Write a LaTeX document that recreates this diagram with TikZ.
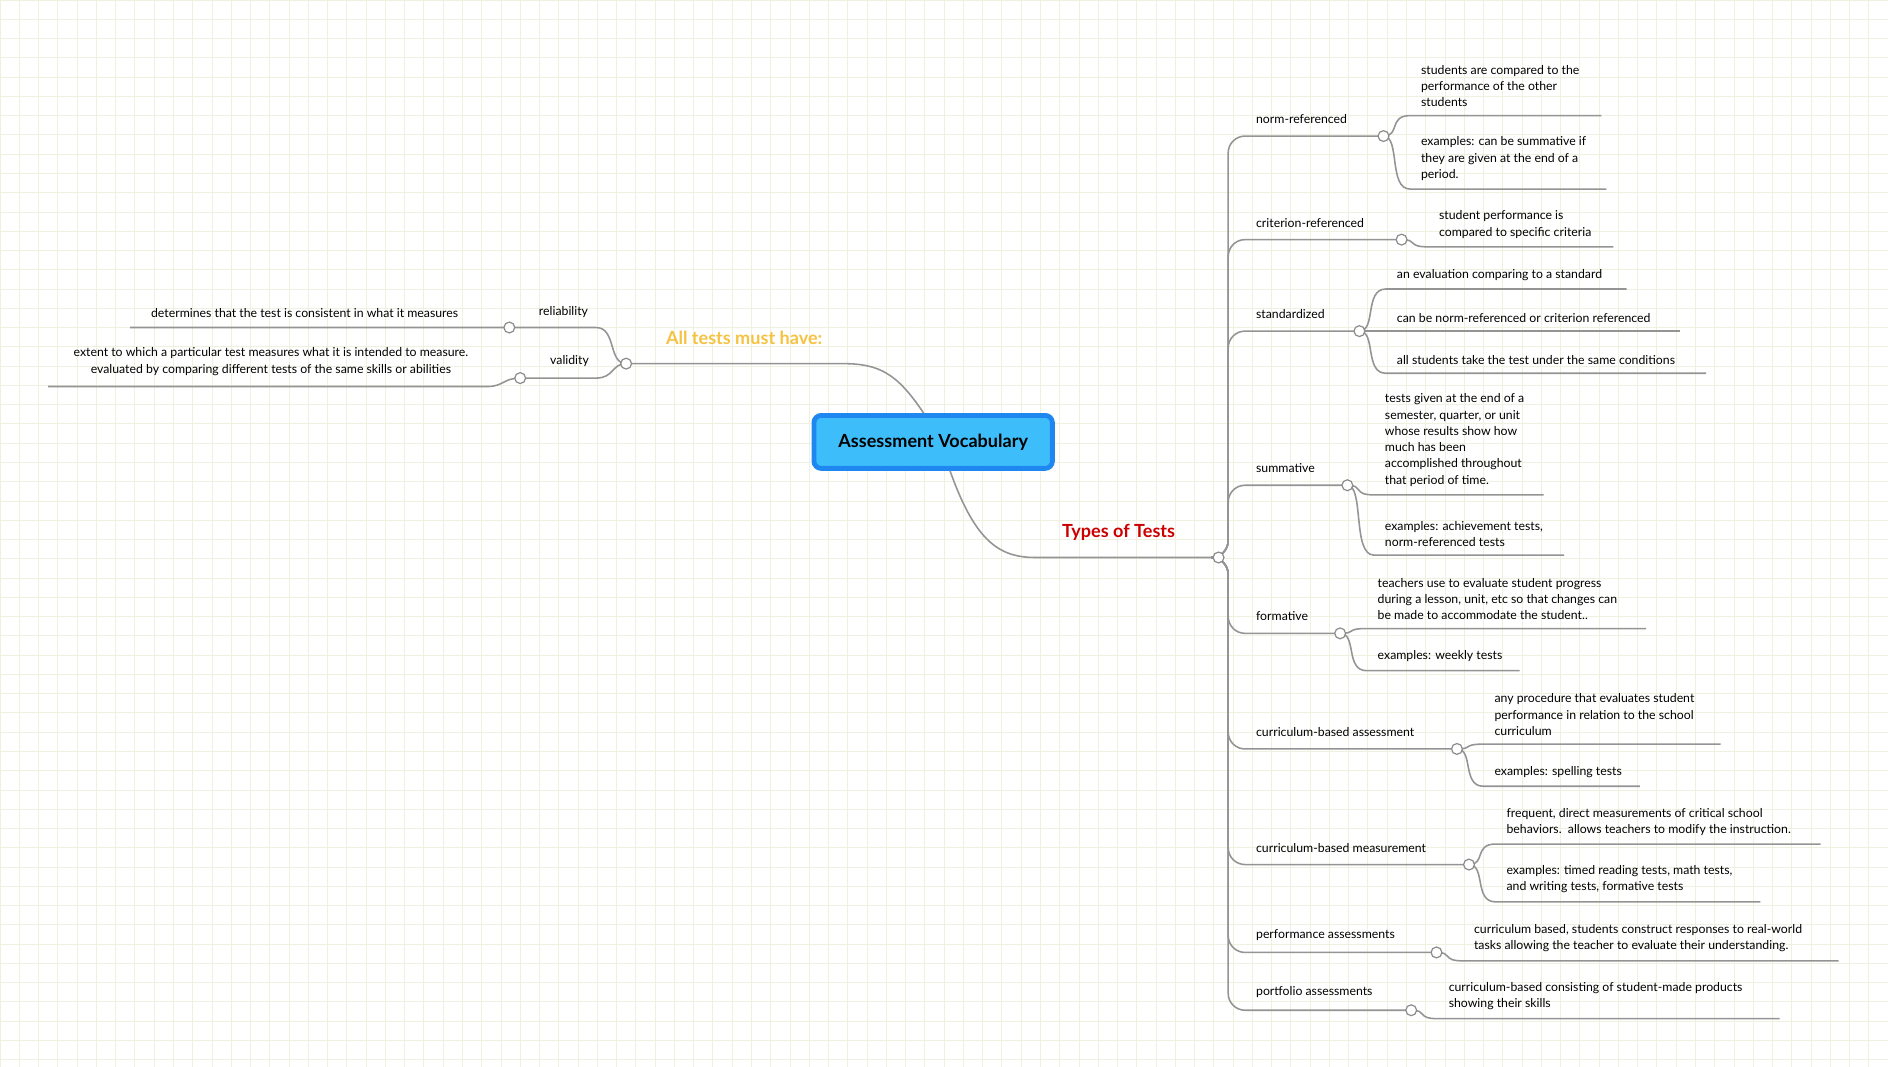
\documentclass[tikz,border=0pt]{standalone}
\usepackage{fontspec}
\setmainfont{Lato}
\begin{document}
\begin{tikzpicture}[x=1pt,y=-1pt,
  conn/.style={draw=black!42,line width=1.3pt},
  dot/.style={circle,draw=black!45,fill=white,line width=1pt,minimum size=9pt,inner sep=0pt},
  txt/.style={font=\fontsize{10.2}{13.5}\selectfont,align=left,inner sep=0pt,anchor=south west},
  lbl/.style={font=\fontsize{10.2}{13}\selectfont,inner sep=0pt,anchor=south west}]
\useasboundingbox (0,0) rectangle (1568,886);
\fill[white] (0,0) rectangle (1568,886);
\foreach \i in {0,16,...,1568}{\draw[color={rgb,255:red,238;green,240;blue,224},line width=0.6pt] (\i,0) -- (\i,886);}
\foreach \i in {0,16,...,880}{\draw[color={rgb,255:red,238;green,240;blue,224},line width=0.6pt] (0,\i) -- (1568,\i);}
% leaf macro
\newcommand\myleaf[7]{%
  \draw[conn] (#1,#2) .. controls (#1+14,#2) and (#1+4,#3) .. (#1+22,#3) -- (#4,#3);
  \node[txt] (#7) at (#5,#3-7) {#6};}
\node[draw={rgb,255:red,30;green,136;blue,240},line width=4pt,fill={rgb,255:red,61;green,190;blue,250},rounded corners=6pt,minimum width=198pt,minimum height=44pt,font=\fontsize{15}{18}\selectfont\bfseries] (root) at (775,367) {Assessment Vocabulary};
\coordinate (L) at (520,302);
\coordinate (R) at (1012,463);
\draw[conn] (root.north) ++(-8,0) .. controls (745,310) and (730,302) .. (700,302) -- (L);
\draw[conn] (root.south) ++(14,0) .. controls (810,450) and (830,463) .. (860,463) -- (R);
\node[font=\fontsize{15}{17}\selectfont\bfseries,text={rgb,255:red,245;green,194;blue,66}] (all) at (618,281) {All tests must have:};
\node[font=\fontsize{15}{17}\selectfont\bfseries,text={rgb,255:red,204;green,0;blue,0}] (types) at (929,442) {Types of Tests};
% left side
\draw[conn] (L) .. controls (505,302) and (512,272) .. (495,272) -- (108,272);
\draw[conn] (L) .. controls (508,302) and (510,314) .. (495,314) -- (432,314) .. controls (418,314) and (418,321) .. (405,321) -- (40,321);
\node[lbl,anchor=south] (rel) at (468,264) {reliability};
\node[lbl,anchor=south] (val) at (473,305) {validity};
\node[txt,anchor=south] (reld) at (253,264) {determines that the test is consistent in what it measures};
\node[txt,anchor=south,align=center] (vald) at (225,312) {extent to which a particular test measures what it is intended to measure.\\ evaluated by comparing different tests of the same skills or abilities};
\node[dot] (rdot) at (423,272) {};
\node[dot] (vdot) at (432,314) {};
\node[dot] (ldot) at (L) {};
% right branches
\foreach \y/\dx/\t/\n in {113/1149/norm-referenced/a,199/1164/criterion-referenced/b,275/1129/standardized/c,403/1119/summative/d,526/1113/formative/e,622/1210/curriculum-based assessment/f,718/1220/curriculum-based measurement/g,791/1193/performance assessments/h,839/1172/portfolio assessments/i}{
  \draw[conn,rounded corners=14pt] (R) -- (1020,463) -- (1020,\y) -- (\dx,\y);
  \node[lbl] (br\n) at (1043,\y-10) {\t};
}
\myleaf{1149}{113}{96}{1330}{1180}{students are compared to the\\performance of the other\\students}{a1}
\myleaf{1149}{113}{157}{1334}{1180}{examples: can be summative if\\they are given at the end of a\\period.}{a2}
\myleaf{1164}{199}{205}{1340}{1195}{student performance is\\compared to specific criteria}{b1}
\myleaf{1129}{275}{240}{1351}{1160}{an evaluation comparing to a standard}{c1}
\myleaf{1129}{275}{275}{1395}{1160}{can be norm-referenced or criterion referenced}{c2}
\myleaf{1129}{275}{310}{1417}{1160}{all students take the test under the same conditions}{c3}
\myleaf{1119}{403}{411}{1282}{1150}{tests given at the end of a\\semester, quarter, or unit\\whose results show how\\much has been\\accomplished throughout\\that period of time.}{d1}
\myleaf{1119}{403}{461}{1299}{1150}{examples: achievement tests,\\norm-referenced tests}{d2}
\myleaf{1113}{526}{522}{1367}{1144}{teachers use to evaluate student progress\\during a lesson, unit, etc so that changes can\\be made to accommodate the student..}{e1}
\myleaf{1113}{526}{557}{1262}{1144}{examples: weekly tests}{e2}
\myleaf{1210}{622}{618}{1429}{1241}{any procedure that evaluates student\\performance in relation to the school\\curriculum}{f1}
\myleaf{1210}{622}{653}{1362}{1241}{examples: spelling tests}{f2}
\myleaf{1220}{718}{701}{1512}{1251}{frequent, direct measurements of critical school\\behaviors.\ \ allows teachers to modify the instruction.}{g1}
\myleaf{1220}{718}{749}{1462}{1251}{examples: timed reading tests, math tests,\\and writing tests, formative tests}{g2}
\myleaf{1193}{791}{798}{1527}{1224}{curriculum based, students construct responses to real-world\\tasks allowing the teacher to evaluate their understanding.}{h1}
\myleaf{1172}{839}{846}{1478}{1203}{curriculum-based consisting of student-made products\\showing their skills}{i1}
\foreach \y/\dx/\n in {113/1149/a,199/1164/b,275/1129/c,403/1119/d,526/1113/e,622/1210/f,718/1220/g,791/1193/h,839/1172/i}{
  \node[dot] (d\n) at (\dx,\y) {};
}
\node[dot] (rdotc) at (R) {};
\end{tikzpicture}
\end{document}
